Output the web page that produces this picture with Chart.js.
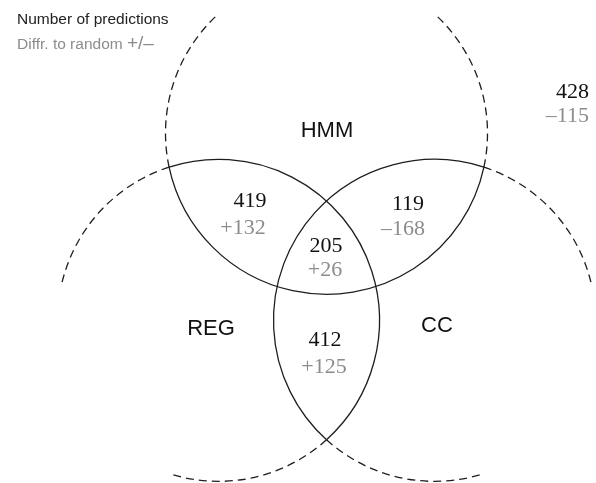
<!DOCTYPE html>
<html><head><meta charset="utf-8">
<script src="https://cdn.jsdelivr.net/npm/chart.js@4.4.1/dist/chart.umd.min.js"></script>
<style>html,body{margin:0;padding:0;background:#fff;overflow:hidden}</style>
</head><body>
<div style="width:596px;height:483px"><canvas id="c" width="596" height="483"></canvas></div>
<script>
// ---- data ----
const setNames = ['HMM', 'REG', 'CC'];
const regionNames = ['outside', 'HMM & REG', 'HMM & CC', 'HMM & REG & CC', 'REG & CC'];
const predictionCounts = [428, 419, 119, 205, 412];
const diffToRandom = [-115, 132, -168, 26, 125];
const headerLines = ['Number of predictions', 'Diffr. to random', '+/\u2013'];

// ---- layout (data-space units of the hidden axes) ----
const venn = { cx: 326.5, cy: 258, side: 216, radius: 161, dashSpanDeg: 60 };
const countPos = [[589, 92, 'right'], [250, 201, 'center'], [408, 204, 'center'], [326, 246, 'center'], [325, 340, 'center']];
const diffPos = [[589, 116.5, 'right'], [243, 228, 'center'], [403, 229, 'center'], [325, 270.5, 'center'], [324, 367, 'center']];
const setNamePos = [[327, 131], [211, 329], [437, 326]];
const headerPos = [[17, 18], [17, 43]];

const fmtDiff = v => v > 0 ? '+' + v : '\u2013' + Math.abs(v);

const vennPlugin = {
  id: 'venn',
  afterDraw(chart) {
    const ctx = chart.ctx, xs = chart.scales.x, ys = chart.scales.y;
    const px = v => xs.getPixelForValue(v), py = v => ys.getPixelForValue(v);
    const rPx = Math.abs(px(venn.radius) - px(0));
    const d = venn.side / Math.sqrt(3);
    // HMM top, REG bottom-left, CC bottom-right
    const angs = [-90, 150, 30].map(a => a * Math.PI / 180);
    const C = angs.map(a => ({ x: px(venn.cx + d * Math.cos(a)), y: py(venn.cy + d * Math.sin(a)) }));
    const G = { x: px(venn.cx), y: py(venn.cy) };
    function outerIntersection(a, b) {
      const dx = b.x - a.x, dy = b.y - a.y, dist = Math.hypot(dx, dy);
      const mx = (a.x + b.x) / 2, my = (a.y + b.y) / 2;
      const h = Math.sqrt(rPx * rPx - (dist / 2) * (dist / 2));
      const ux = -dy / dist, uy = dx / dist;
      const p1 = { x: mx + ux * h, y: my + uy * h }, p2 = { x: mx - ux * h, y: my - uy * h };
      return Math.hypot(p1.x - G.x, p1.y - G.y) > Math.hypot(p2.x - G.x, p2.y - G.y) ? p1 : p2;
    }
    const norm = a => { while (a <= -Math.PI) a += 2 * Math.PI; while (a > Math.PI) a -= 2 * Math.PI; return a; };
    const span = venn.dashSpanDeg * Math.PI / 180;
    ctx.save();
    ctx.strokeStyle = '#1e1e1e';
    ctx.lineWidth = 1.3;
    for (let i = 0; i < 3; i++) {
      const c = C[i];
      const others = [0, 1, 2].filter(k => k !== i);
      const thc = Math.atan2(G.y - c.y, G.x - c.x);
      const ds = others.map(k => {
        const p = outerIntersection(c, C[k]);
        return norm(Math.atan2(p.y - c.y, p.x - c.x) - thc);
      });
      const lo = thc + Math.min(...ds), hi = thc + Math.max(...ds);
      ctx.setLineDash([]);
      ctx.beginPath(); ctx.arc(c.x, c.y, rPx, lo, hi, false); ctx.stroke();
      ctx.setLineDash([8, 5]);
      ctx.beginPath(); ctx.arc(c.x, c.y, rPx, hi, hi + span, false); ctx.stroke();
      ctx.beginPath(); ctx.arc(c.x, c.y, rPx, lo, lo - span, true); ctx.stroke();
    }
    ctx.setLineDash([]);
    // set names
    ctx.font = '22px "Liberation Sans", Arial, sans-serif';
    ctx.fillStyle = '#111';
    ctx.textAlign = 'center'; ctx.textBaseline = 'middle';
    setNames.forEach((n, i) => ctx.fillText(n, px(setNamePos[i][0]), py(setNamePos[i][1])));
    // counts and differences
    ctx.font = '22px "Liberation Serif", "Times New Roman", serif';
    predictionCounts.forEach((v, i) => {
      ctx.fillStyle = '#111'; ctx.textAlign = countPos[i][2];
      ctx.fillText(String(v), px(countPos[i][0]), py(countPos[i][1]));
      ctx.fillStyle = '#8c8c8c'; ctx.textAlign = diffPos[i][2];
      ctx.fillText(fmtDiff(diffToRandom[i]), px(diffPos[i][0]), py(diffPos[i][1]));
    });
    // header
    ctx.font = '15.5px "Liberation Sans", Arial, sans-serif';
    ctx.textAlign = 'left'; ctx.textBaseline = 'alphabetic';
    ctx.fillStyle = '#222';
    ctx.fillText(headerLines[0], px(headerPos[0][0]), py(headerPos[0][1]) + 5.5);
    ctx.fillStyle = '#8c8c8c';
    const x2 = px(headerPos[1][0]);
    const y2 = py(headerPos[1][1]) + 5.5;
    ctx.fillText(headerLines[1], x2, y2);
    const w2 = ctx.measureText(headerLines[1] + ' ').width;
    ctx.font = '19px "Liberation Sans", Arial, sans-serif';
    ctx.fillText(headerLines[2], x2 + w2, y2);
    ctx.restore();
  }
};

new Chart(document.getElementById('c'), {
  type: 'scatter',
  data: {
    datasets: [{
      label: 'Number of predictions',
      data: predictionCounts.map((v, i) => ({ x: countPos[i][0], y: countPos[i][1], count: v, diff: diffToRandom[i], region: regionNames[i] })),
      pointRadius: 0, showLine: false
    }]
  },
  options: {
    responsive: false, animation: false, maintainAspectRatio: false,
    layout: { padding: 0 },
    plugins: { legend: { display: false }, tooltip: { enabled: false }, title: { display: false } },
    scales: {
      x: { type: 'linear', min: 0, max: 596, display: false },
      y: { type: 'linear', min: 0, max: 483, reverse: true, display: false }
    }
  },
  plugins: [vennPlugin]
});
</script>
</body></html>
